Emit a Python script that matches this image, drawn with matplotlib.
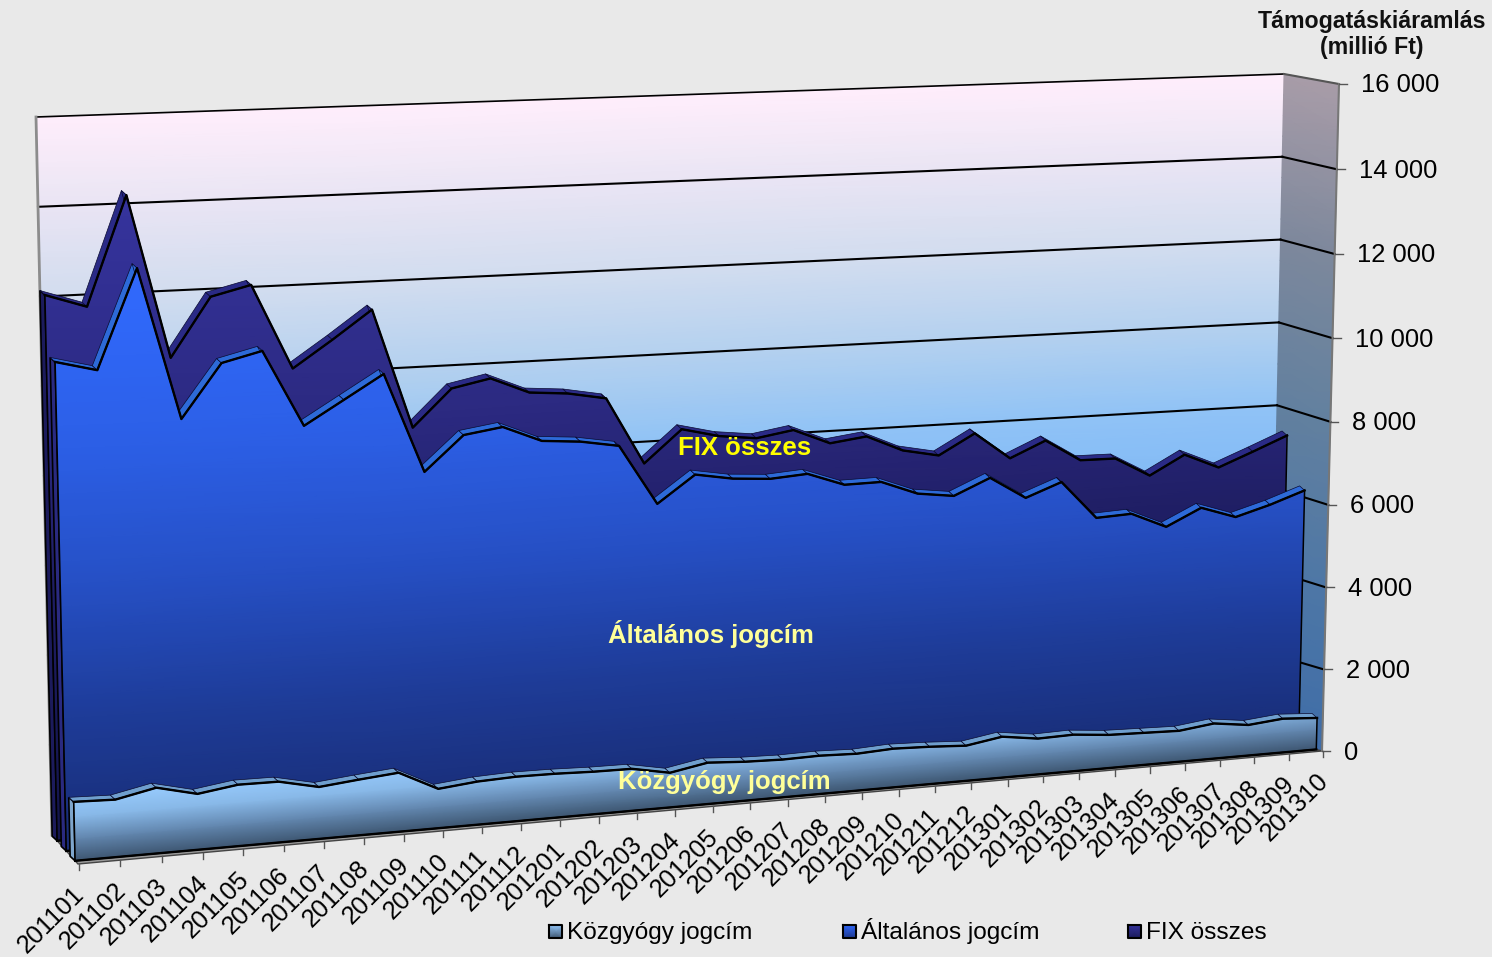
import numpy as np
import matplotlib
matplotlib.use("Agg")
import matplotlib.pyplot as plt
from matplotlib.colors import LinearSegmentedColormap, Normalize
from matplotlib.path import Path
from matplotlib.transforms import Transform

plt.rcParams['font.family'] = ['Liberation Sans', 'DejaVu Sans']

# data
months = ['201101', '201102', '201103', '201104', '201105', '201106', '201107', '201108', '201109',
          '201110', '201111', '201112', '201201', '201202', '201203', '201204', '201205', '201206',
          '201207', '201208', '201209', '201210', '201211', '201212', '201301', '201302', '201303',
          '201304', '201305', '201306', '201307', '201308', '201309', '201310']
kozgyogy = [1330, 1300, 1490, 1270, 1400, 1390, 1190, 1280, 1360, 910, 1000, 1035, 1025, 995, 985, 815, 975,
            920, 895, 910, 880, 925, 895, 845, 985, 865, 885, 805, 780, 755, 860, 750, 830, 775]
altalanos = [10900, 10670, 12860, 9490, 10680, 10900, 9180, 9710, 10240, 7980, 8760, 8890, 8520, 8450, 8300,
             6910, 7530, 7380, 7320, 7380, 7070, 7080, 6750, 6640, 7010, 6480, 6800, 5890, 5930, 5560, 5960,
             5680, 5920, 6210]
fix_osszes = [12200, 11900, 14310, 10680, 11990, 12210, 10300, 10900, 11530, 8820, 9660, 9840, 9470, 9400, 9240,
              7690, 8430, 8220, 8120, 8260, 7900, 8010, 7630, 7460, 7930, 7290, 7660, 7140, 7130, 6670, 7120,
              6760, 7090, 7430]
y_ticks = [0, 2000, 4000, 6000, 8000, 10000, 12000, 14000, 16000]
y_labels = ['0', '2 000', '4 000', '6 000', '8 000', '10 000', '12 000', '14 000', '16 000']

BG = '#e9e9e9'
n = len(months) - 1
vmax = 16000

# box corners in pixels: bottom-left, bottom-right, top-right, top-left
front_box = np.array([(78, 864), (1322, 751), (1339, 84), (61, 135)], float)
back_box = np.array([(52, 835), (1270, 737), (1284, 74), (36, 117)], float)


class Plane(Transform):
    """(month index, value) -> pixels on one depth plane of the 3d box"""
    input_dims = 2
    output_dims = 2

    def __init__(self, depth, kv=0.0):
        super().__init__()
        self.ku = 0.008 + 0.015 * depth
        self.kv = kv
        corners = front_box + (back_box - front_box) * depth
        src = [(0, 0), (n, 0), (n, vmax), (0, vmax)]
        A, b = [], []
        for (u, v), (x, y) in zip(src, corners):
            A.append([u, v, 1, 0, 0, 0, -u * x, -v * x])
            A.append([0, 0, 0, u, v, 1, -u * y, -v * y])
            b += [x, y]
        self.h = np.append(np.linalg.solve(np.array(A, float), np.array(b, float)), 1).reshape(3, 3)

    def transform_non_affine(self, values):
        values = np.asarray(values, float)
        # extra foreshortening along each axis, ends stay fixed
        s = values[:, 0] / n
        t = values[:, 1] / vmax
        u = n * s * (1 + self.ku) / (1 + self.ku * s)
        v = vmax * t * (1 + self.kv) / (1 + self.kv * t)
        p = np.c_[u, v, np.ones(len(values))] @ self.h.T
        return p[:, :2] / p[:, 2:]


fig = plt.figure(figsize=(14.92, 9.57), dpi=100, facecolor=BG)
ax = fig.add_axes([0, 0, 1, 1])
ax.set_xlim(0, 1492)
ax.set_ylim(957, 0)
ax.axis('off')
ax.autoscale(False)

norm = Normalize(0, vmax)


def cmap_from(stops):
    return LinearSegmentedColormap.from_list('c', [(v / vmax, c) for v, c in stops])


def gradient(top_pts, bottom_pts, vs, cmap, clip=None, z=1):
    # gouraud mesh between two vertical edges, coloured by value
    X = np.c_[bottom_pts[:, 0], top_pts[:, 0]]
    Y = np.c_[bottom_pts[:, 1], top_pts[:, 1]]
    C = np.c_[vs, vs]
    m = ax.pcolormesh(X, Y, C, shading='gouraud', cmap=cmap, norm=norm, zorder=z)
    if clip is not None:
        m.set_clip_path(Path(clip, closed=False), ax.transData)
    return m


def edge(plane, u, vs):
    return plane.transform(np.c_[np.full(len(vs), u), vs])


back = Plane(1.0, kv=0.025)
front = Plane(0.0)
vs_grid = np.linspace(0, vmax, 33)

# walls
wall_cm = cmap_from([(0, '#5f93d8'), (6000, '#7fb8f5'), (8000, '#90c3f6'), (10000, '#b4d1ef'), (12000, '#d2ddef'),
                     (14000, '#e9e5f4'), (16000, '#ffeefc')])
gradient(edge(back, 0, vs_grid), edge(back, n, vs_grid), vs_grid, wall_cm, z=1)
side_cm = cmap_from([(0, '#3f6da8'), (4000, '#4e77a6'), (8000, '#62809f'), (12000, '#7d889c'), (16000, '#a89ca8')])
gradient(edge(back, n, vs_grid), edge(front, n, vs_grid), vs_grid, side_cm, z=1)

# floor
floor = np.vstack([edge(front, 0, [0]), edge(front, n, [0]), edge(back, n, [0]), edge(back, 0, [0])])
ax.fill(floor[:, 0], floor[:, 1], color='#9a9a9a', ec='#444444', lw=1, zorder=2)

# grid lines on back wall and right wall
for v in y_ticks[1:]:
    ax.plot([0, n], [v, v], transform=back + ax.transData, color='black', lw=1.5 if v < 16000 else 1.2, zorder=3)
    a = edge(back, n, [v])[0]
    b = edge(front, n, [v])[0]
    ax.plot([a[0], b[0]], [a[1], b[1]], color='black' if v < 16000 else '#555555', lw=1.5, zorder=3)
# wall outlines
l = edge(back, 0, [0, vmax])
ax.plot(l[:, 0], l[:, 1], color='#8c8c8c', lw=2, zorder=3)
r = edge(front, n, [0, vmax])
ax.plot(r[:, 0], r[:, 1], color='#777777', lw=1.5, zorder=3)

# fixed screen offset of the top surface of each area
off = np.array([-5, -4.5])


def draw_area(vals, depth, cmap, strip, side, z):
    plane = Plane(depth)
    cats = np.arange(len(vals))
    top = plane.transform(np.c_[cats, vals])
    base = plane.transform(np.c_[cats, np.zeros(len(vals))])
    # left end of the extruded area
    left = np.array([base[0], top[0], top[0] + off, base[0] + off])
    ax.fill(left[:, 0], left[:, 1], fc=side, ec='black', lw=1.2, zorder=z)
    # top surface
    for i in range(len(vals) - 1):
        q = np.array([top[i], top[i + 1], top[i + 1] + off, top[i] + off])
        ax.fill(q[:, 0], q[:, 1], fc=strip, ec='#0a0a30', lw=0.5, joinstyle='round', zorder=z)
    poly = np.vstack([base[0], top, base[-1], base[0]])
    gradient(edge(plane, 0, vs_grid), edge(plane, n, vs_grid), vs_grid, cmap, clip=poly, z=z + 0.1)
    ax.plot(cats, vals, transform=plane + ax.transData, color='black', lw=1.7, zorder=z + 0.2)
    ax.plot(poly[:, 0], poly[:, 1], color='black', lw=1.1, zorder=z + 0.2)
    ax.plot(base[[0, -1], 0], base[[0, -1], 1], color='black', lw=1.7, zorder=z + 0.2)


fix_cm = cmap_from([(0, '#13144c'), (6000, '#201f66'), (9000, '#2b2980'), (14000, '#35339c'), (16000, '#3634a0')])
alt_cm = cmap_from([(0, '#182c74'), (3000, '#1e3c98'), (6000, '#2650c5'), (9000, '#2c5fe6'), (12000, '#3068fa'),
                    (16000, '#3068fa')])
koz_cm = cmap_from([(0, '#3d5570'), (400, '#587a9f'), (800, '#7eabd8'), (1300, '#97cbfe'), (16000, '#97cbfe')])

draw_area(fix_osszes, 0.80, fix_cm, '#2a2a86', '#1c1b5c', 4)
draw_area(altalanos, 0.45, alt_cm, '#2d6ad8', '#2a2a80', 5)
draw_area(kozgyogy, 0.11, koz_cm, '#6f9fce', '#7fa6cc', 6)

# ticks and labels, placed relative to the projected axis points
for i, lab in enumerate(months):
    p = edge(front, i, [0])[0] + (1, 0)
    ax.plot([p[0], p[0]], [p[1], p[1] + 6], color='#555555', lw=1, zorder=7)
    ax.text(p[0] - 7, p[1] + 18, lab, rotation=45, ha='right', va='top', rotation_mode='anchor',
            fontsize=18.3, color='black', zorder=8)
for v, lab in zip(y_ticks, y_labels):
    p = edge(front, n, [v])[0]
    ax.plot([p[0], p[0] + 8], [p[1], p[1]], color='#555555', lw=1, zorder=7)
    ax.text(p[0] + 22, p[1] + 1.5, lab, ha='left', va='center', fontsize=18.4, color='black', zorder=8)

ax.text(1372, 34.5, 'Támogatáskiáramlás\n(millió Ft)', ha='center', va='center', fontsize=16.7, fontweight='bold',
        linespacing=1.2, color='#111111')

# series labels inside the chart
ax.text(745, 448, 'FIX összes', ha='center', va='center', fontsize=18.5, fontweight='bold', color='#ffff00', zorder=9)
ax.text(711, 634, 'Általános jogcím', ha='center', va='center', fontsize=18.5, fontweight='bold', color='#ffff99', zorder=9)
ax.text(724, 782, 'Közgyógy jogcím', ha='center', va='center', fontsize=18.5, fontweight='bold', color='#ffff99', zorder=9)

# legend
legend_items = [(549, 'Közgyógy jogcím', koz_cm, 0, 1300), (843, 'Általános jogcím', alt_cm, 2000, 12000),
                (1128, 'FIX összes', fix_cm, 3000, 14000)]
for x0, lab, cm, lo, hi in legend_items:
    ax.pcolormesh([x0, x0 + 13], [938, 925], [[lo, lo], [hi, hi]], shading='gouraud', cmap=cm, norm=norm, zorder=8)
    ax.plot([x0, x0 + 13, x0 + 13, x0, x0], [925, 925, 938, 938, 925], color='black', lw=1.5, zorder=9)
    ax.text(x0 + 18, 939, lab, ha='left', va='baseline', fontsize=17.6, color='black', zorder=9)

fig.savefig('out.png', dpi=100, facecolor=BG)
